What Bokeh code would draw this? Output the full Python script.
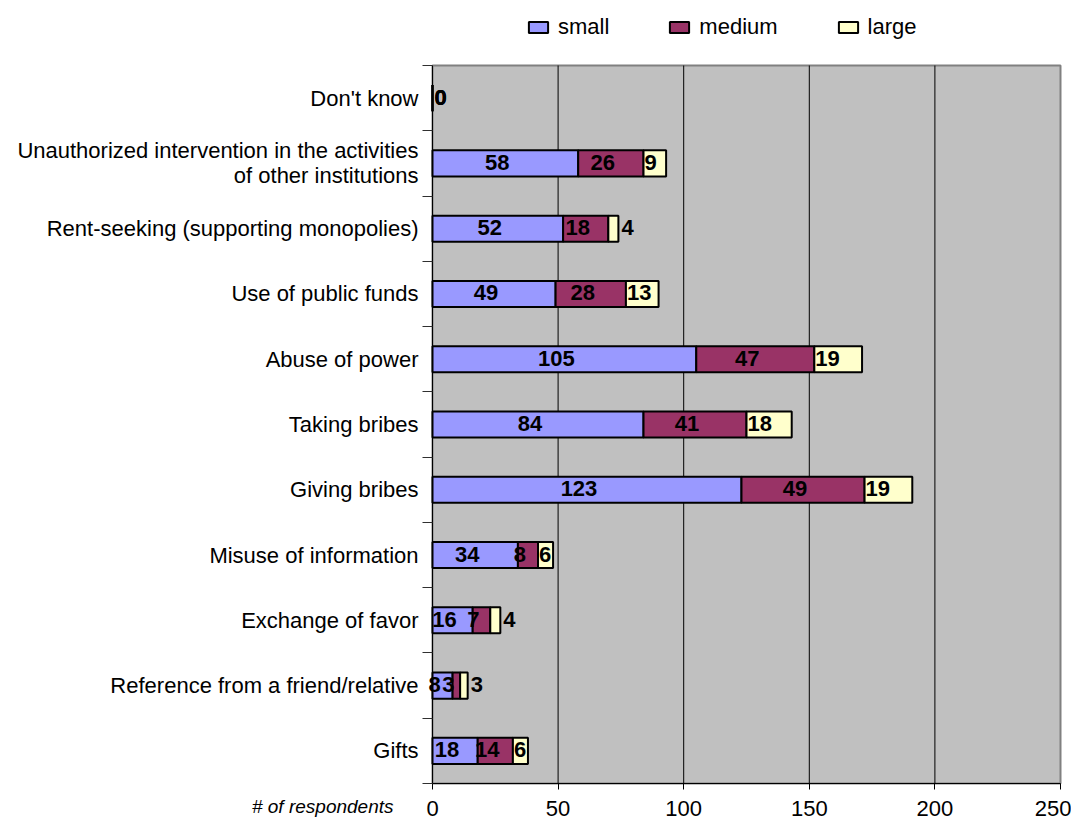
from bokeh.plotting import figure
from bokeh.models import ColumnDataSource, Range1d, FixedTicker, Legend, LegendItem, Label
from bokeh.embed import file_html
from bokeh.resources import INLINE
from bokeh.core.properties import value

# ---- data ----
categories = [
    "Don't know",
    "Unauthorized intervention in the activities\nof other institutions",
    "Rent-seeking (supporting monopolies)",
    "Use of public funds",
    "Abuse of power",
    "Taking bribes",
    "Giving bribes",
    "Misuse of information",
    "Exchange of favor",
    "Reference from a friend/relative",
    "Gifts",
]
small = [0, 58, 52, 49, 105, 84, 123, 34, 16, 8, 18]
medium = [0, 26, 18, 28, 47, 41, 49, 8, 7, 3, 14]
large = [0, 9, 4, 13, 19, 18, 19, 6, 4, 3, 6]
series_names = ["small", "medium", "large"]
x_ticks = [0, 50, 100, 150, 200, 250]
x_title = "# of respondents"

colors = ["#9999FF", "#993366", "#FFFFCC"]
FONT = "Liberation Sans"

# ---- layout (pixels) ----
W, H = 1071, 821
PL, PR, PT, PB = 432, 1060, 65, 783   # plot-area edges in canvas pixels
x_max = x_ticks[-1]
n = len(categories)
ppx = (PR - PL) / x_max
ppy = (PB - PT) / n

ys = [n - i - 0.5 for i in range(n)]
source = ColumnDataSource(dict(y=ys, small=small, medium=medium, large=large))

p = figure(width=W, height=H, title=None,
           x_range=Range1d(-PL / ppx, (W - PL) / ppx),
           y_range=Range1d(-(H - PB) / ppy, n + PT / ppy),
           output_backend="svg", toolbar_location=None,
           min_border=0, min_border_left=0, min_border_right=0,
           min_border_top=0, min_border_bottom=0)
p.background_fill_color = "white"
p.border_fill_color = "white"
p.outline_line_color = None
p.xgrid.visible = False
p.ygrid.visible = False

# plot area background + border
p.quad(left=[0], right=[x_max], bottom=[0], top=[n],
       fill_color="#C0C0C0", line_color="#808080", line_width=2)

# vertical grid lines
gx = [t for t in x_ticks if 0 < t < x_max]
p.segment(x0=gx, x1=gx, y0=[0] * len(gx), y1=[n] * len(gx),
          line_color="black", line_width=1)

renderers = p.hbar_stack(series_names, y="y", height=0.4, source=source,
                         fill_color=colors, line_color="black", line_width=2)

# x axis
xa = p.xaxis[0]
xa.fixed_location = 0
xa.bounds = (0, x_max)
xa.ticker = FixedTicker(ticks=x_ticks)
xa.major_tick_out = 6
xa.major_tick_in = 0
xa.minor_tick_line_color = None
xa.major_label_standoff = 11
xa.major_label_text_font = FONT
xa.major_label_text_font_size = "22px"
xa.major_label_text_color = "black"
xa.axis_line_color = "black"
xa.major_tick_line_color = "black"

# y axis
ya = p.yaxis[0]
ya.fixed_location = 0
ya.bounds = (0, n)
ya.ticker = FixedTicker(ticks=ys, minor_ticks=list(range(n + 1)))
ya.major_label_overrides = {y: c for y, c in zip(ys, categories)}
ya.major_tick_out = 0
ya.major_tick_in = 0
ya.minor_tick_out = 10
ya.minor_tick_in = 0
ya.minor_tick_line_color = "#303030"
ya.major_label_standoff = 4
ya.major_label_text_font = FONT
ya.major_label_text_font_size = "22px"
ya.major_label_text_line_height = 1.0
ya.major_label_text_color = "black"
ya.axis_line_color = "black"

# data labels
vals = [small, medium, large]
cum_start = [[0] * n, small, [s + m for s, m in zip(small, medium)]]
cx, cy, ct = [], [], []   # centred labels
lx, ly, lt = [], [], []   # labels at start of segment
ox, oy, ot = [], [], []   # labels after the bar end
zx, zy, zt = [], [], []   # zero labels
for k in range(3):
    for i in range(n):
        v = vals[k][i]
        st = cum_start[k][i]
        if v == 0:
            zx.append(0); zy.append(ys[i]); zt.append(str(v))
        elif k < 2:
            cx.append(st + v / 2); cy.append(ys[i]); ct.append(str(v))
        elif v < 5:
            ox.append(st + v); oy.append(ys[i]); ot.append(str(v))
        else:
            lx.append(st); ly.append(ys[i]); lt.append(str(v))

common = dict(text_font=value(FONT), text_font_style="bold", text_font_size="22px",
              text_color="black", text_baseline="middle", y_offset=-1)
p.text(x=cx, y=cy, text=ct, text_align="center", x_offset=-8, **common)
p.text(x=lx, y=ly, text=lt, text_align="left", x_offset=1, **common)
p.text(x=ox, y=oy, text=ot, text_align="left", x_offset=3, **common)
p.text(x=zx, y=zy, text=zt, text_align="left", x_offset=2, **common)

# legend
legend = Legend(items=[LegendItem(label=s, renderers=[r]) for s, r in zip(series_names, renderers)],
                orientation="horizontal", location=(526, H - 26 - 14),
                label_text_font=FONT, label_text_font_size="22px", label_text_color="black",
                glyph_width=24, glyph_height=14, label_standoff=8, spacing=58,
                label_height=22, padding=0, margin=0,
                border_line_color=None, background_fill_alpha=0)
p.add_layout(legend, "center")

# axis title
p.add_layout(Label(x=-(PL - 393) / ppx, y=-(806 - PB) / ppy, text=x_title, text_align="right",
                   text_baseline="middle", text_font=FONT, text_font_size="19px",
                   text_font_style="italic", text_color="black"))

open("out.html", "w").write(file_html(p, INLINE))
